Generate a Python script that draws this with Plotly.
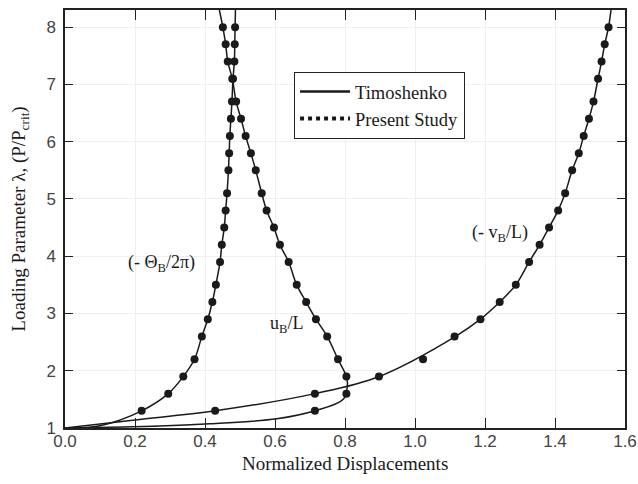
import plotly.graph_objects as go

# ---- Present Study (markers) ----
lam_pts = [1.3, 1.6, 1.9, 2.2, 2.6, 2.9, 3.2, 3.5, 3.9, 4.2, 4.5, 4.8, 5.1, 5.5,
           5.8, 6.1, 6.4, 6.7, 7.1, 7.4, 7.7, 8.0]
theta_pts = [0.219, 0.295, 0.338, 0.370, 0.391, 0.408, 0.421, 0.431, 0.443, 0.448,
             0.455, 0.459, 0.463, 0.467, 0.469, 0.471, 0.474, 0.477, 0.480, 0.484,
             0.485, 0.486]
u_pts = [0.714, 0.804, 0.804, 0.780, 0.749, 0.717, 0.689, 0.662, 0.639, 0.614,
         0.597, 0.576, 0.562, 0.545, 0.531, 0.516, 0.503, 0.489, 0.478, 0.465,
         0.459, 0.451]
v_pts = [0.429, 0.714, 0.897, 1.023, 1.113, 1.187, 1.242, 1.288, 1.326, 1.356,
         1.383, 1.409, 1.429, 1.449, 1.468, 1.482, 1.497, 1.510, 1.523, 1.533,
         1.542, 1.553]

# ---- Timoshenko (lines) ----
theta_line_x = [0.0, 0.10, 0.219, 0.295, 0.338, 0.370, 0.391, 0.408, 0.421, 0.431, 0.443,
                0.448, 0.455, 0.459, 0.463, 0.467, 0.469, 0.471, 0.474, 0.477, 0.480,
                0.484, 0.485, 0.486, 0.487]
theta_line_y = [1.0, 1.04, 1.3, 1.6, 1.9, 2.2, 2.6, 2.9, 3.2, 3.5, 3.9, 4.2, 4.5, 4.8,
                5.1, 5.5, 5.8, 6.1, 6.4, 6.7, 7.1, 7.4, 7.7, 8.0, 8.3]
u_line_x = [0.0, 0.27, 0.414, 0.605, 0.714, 0.795, 0.807, 0.804, 0.780, 0.749, 0.717,
            0.689, 0.662, 0.639, 0.614, 0.597, 0.576, 0.562, 0.545, 0.531, 0.516, 0.503,
            0.489, 0.478, 0.465, 0.459, 0.451, 0.441]
u_line_y = [1.0, 1.035, 1.075, 1.16, 1.3, 1.5, 1.75, 1.9, 2.2, 2.6, 2.9, 3.2, 3.5, 3.9,
            4.2, 4.5, 4.8, 5.1, 5.5, 5.8, 6.1, 6.4, 6.7, 7.1, 7.4, 7.7, 8.0, 8.3]
v_line_x = [0.0, 0.20, 0.429, 0.714, 0.898, 1.116, 1.187, 1.242, 1.288, 1.326, 1.356,
            1.383, 1.409, 1.429, 1.449, 1.468, 1.482, 1.497, 1.510, 1.523, 1.533, 1.542,
            1.553, 1.560]
v_line_y = [1.0, 1.14, 1.3, 1.6, 1.9, 2.6, 2.9, 3.2, 3.5, 3.9, 4.2, 4.5, 4.8, 5.1, 5.5,
            5.8, 6.1, 6.4, 6.7, 7.1, 7.4, 7.7, 8.0, 8.3]

x_ticks = [0.0, 0.2, 0.4, 0.6, 0.8, 1.0, 1.2, 1.4, 1.6]
y_ticks = [1, 2, 3, 4, 5, 6, 7, 8]

SERIF = "Liberation Serif, Times New Roman, serif"
SANS = "Liberation Sans, Arial, sans-serif"
INK = "#1a1a1a"

fig = go.Figure()
for lx, ly in [(theta_line_x, theta_line_y), (u_line_x, u_line_y), (v_line_x, v_line_y)]:
    fig.add_trace(go.Scatter(x=lx, y=ly, mode="lines",
                             line=dict(color=INK, width=1.5, shape="spline", smoothing=1.0),
                             showlegend=False, hoverinfo="skip"))
for px in [theta_pts, u_pts, v_pts]:
    fig.add_trace(go.Scatter(x=px, y=lam_pts, mode="markers",
                             marker=dict(color=INK, size=8), showlegend=False))

# legend entries
fig.add_trace(go.Scatter(x=[None], y=[None], mode="lines", name="Timoshenko",
                         line=dict(color=INK, width=2.5)))
fig.add_trace(go.Scatter(x=[None], y=[None], mode="lines", name="Present Study",
                         line=dict(color=INK, width=4, dash="dot")))

lab_font = dict(family=SERIF, size=18, color=INK)
fig.add_annotation(x=0.276, y=3.88, text="(- Θ<sub>B</sub>/2π)", showarrow=False, font=lab_font)
fig.add_annotation(x=0.633, y=2.80, text="u<sub>B</sub>/L", showarrow=False, font=lab_font)
fig.add_annotation(x=1.242, y=4.40, text="(- v<sub>B</sub>/L)", showarrow=False, font=lab_font)

# x axis title (placed as paper annotation for exact vertical position)
fig.add_annotation(xref="paper", yref="paper", x=0.5, y=-0.086, yanchor="middle",
                   text="Normalized Displacements", showarrow=False,
                   font=dict(family=SERIF, size=19, color=INK))

axis_common = dict(showline=True, linecolor="#222", linewidth=1.5, mirror="ticks",
                   ticks="inside", tickwidth=1.2, tickcolor="#222",
                   showgrid=True, gridcolor="#efefef", zeroline=False,
                   tickfont=dict(family=SANS, size=17, color="#444"))
fig.update_xaxes(range=[0, 1.6], tickvals=x_ticks, ticktext=[f"{v:.1f}" for v in x_ticks],
                 ticklen=10, ticklabelstandoff=-3, **axis_common)
fig.update_yaxes(range=[1, 8.3], tickvals=y_ticks, ticktext=[str(v) for v in y_ticks],
                 ticklen=8, ticklabelstandoff=4,
                 title=dict(text="Loading Parameter λ, (P/P<sub>crit</sub>)",
                            font=dict(family=SERIF, size=19, color=INK), standoff=16),
                 **axis_common)

fig.update_layout(width=638, height=484, margin=dict(l=65, r=13, t=10, b=56, autoexpand=False),
                  plot_bgcolor="white", paper_bgcolor="white",
                  legend=dict(x=0.409, y=0.852, xanchor="left", yanchor="top",
                              bordercolor="#222", borderwidth=1, bgcolor="white",
                              font=dict(family=SERIF, size=18.5, color=INK),
                              itemwidth=50, tracegroupgap=0))
fig.write_html("out.html")
